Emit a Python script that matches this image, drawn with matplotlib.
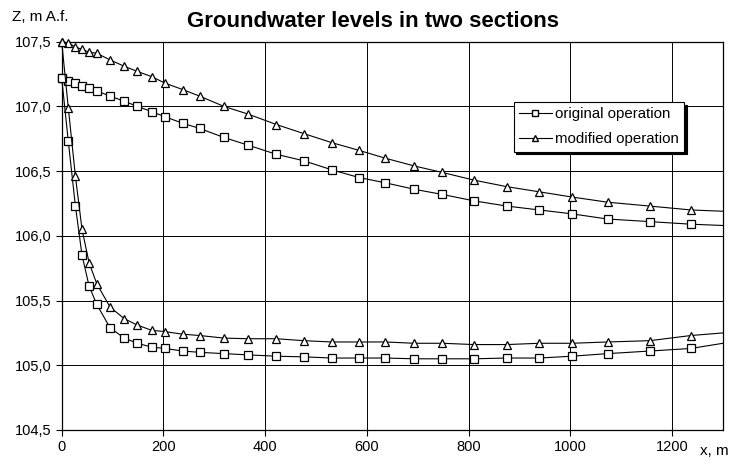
import numpy as np
import matplotlib
matplotlib.use("Agg")
import matplotlib.pyplot as plt
from matplotlib.lines import Line2D

plt.rcParams['font.family'] = ['Liberation Sans', 'DejaVu Sans']

# distance along the section, m (last value = right edge of the chart)
x = [0, 13, 27, 40, 54, 69, 95, 123, 149, 177, 203, 238, 271, 319, 367, 422,
     476, 531, 585, 636, 693, 748, 811, 875, 939, 1003, 1073, 1156, 1237, 1300]

# original operation, two sections
orig_upper = [107.22, 107.20, 107.18, 107.16, 107.14, 107.12, 107.08, 107.04, 107.00,
              106.96, 106.92, 106.87, 106.83, 106.76, 106.70, 106.63, 106.58, 106.51,
              106.45, 106.41, 106.36, 106.32, 106.27, 106.23, 106.20, 106.17, 106.13,
              106.11, 106.09, 106.08]
orig_lower = [107.22, 106.73, 106.23, 105.85, 105.61, 105.47, 105.29, 105.21, 105.17,
              105.14, 105.13, 105.11, 105.10, 105.09, 105.08, 105.07, 105.065, 105.056,
              105.056, 105.056, 105.05, 105.05, 105.05, 105.056, 105.056, 105.07, 105.09,
              105.11, 105.13, 105.17]

# modified operation, two sections
mod_upper = [107.50, 107.49, 107.46, 107.44, 107.42, 107.41, 107.36, 107.31, 107.27,
             107.23, 107.18, 107.13, 107.08, 107.00, 106.94, 106.86, 106.79, 106.72,
             106.66, 106.60, 106.54, 106.49, 106.43, 106.38, 106.34, 106.30, 106.26,
             106.23, 106.20, 106.19]
mod_lower = [107.50, 106.99, 106.46, 106.05, 105.79, 105.63, 105.45, 105.36, 105.31,
             105.27, 105.26, 105.24, 105.23, 105.21, 105.205, 105.205, 105.19, 105.18,
             105.18, 105.18, 105.17, 105.17, 105.16, 105.16, 105.17, 105.17, 105.18,
             105.19, 105.23, 105.25]

yticks = [104.5, 105.0, 105.5, 106.0, 106.5, 107.0, 107.5]
xticks = [0, 200, 400, 600, 800, 1000, 1200]

fig = plt.figure(figsize=(7.36, 4.65), dpi=100)
ax = fig.add_axes([0.0838, 0.0753, 0.8986, 0.8350])

marks = slice(0, len(x) - 1)
sq = dict(color='black', lw=0.8, marker='s', markersize=6, markerfacecolor='white',
          markeredgecolor='black', markeredgewidth=0.9, markevery=marks, clip_on=False)
tri = dict(color='black', lw=0.8, marker='^', markersize=5.5, markerfacecolor='white',
           markeredgecolor='black', markeredgewidth=0.9, markevery=marks, clip_on=False)

ax.plot(x, orig_upper, **sq, zorder=3)
ax.plot(x, orig_lower, **sq, zorder=3)
ax.plot(x, mod_upper, **tri, zorder=4)
ax.plot(x, mod_lower, **tri, zorder=4)

ax.set_xlim(0, 1300)
ax.set_ylim(104.5, 107.5)
ax.set_xticks(xticks)
ax.set_yticks(yticks)
ax.set_yticklabels([f'{v:.1f}'.replace('.', ',') for v in yticks])
ax.tick_params(direction='out', length=4, width=0.8, pad=3, labelsize=10.5)
ax.grid(True, color='black', lw=0.7)
ax.set_axisbelow(True)
for s in ax.spines.values():
    s.set_linewidth(0.9)

handles = [
    Line2D([], [], color='black', lw=0.8, marker='s', markersize=5,
           markerfacecolor='white', markeredgecolor='black'),
    Line2D([], [], color='black', lw=0.8, marker='^', markersize=4.5,
           markerfacecolor='white', markeredgecolor='black'),
]
leg = ax.legend(handles, ['original operation', 'modified operation'],
                loc='upper right', bbox_to_anchor=(0.941, 0.845), fontsize=10.8,
                handlelength=2.2, handletextpad=0.2, borderpad=0.35, labelspacing=0.75,
                borderaxespad=0, fancybox=False, framealpha=1, edgecolor='black',
                shadow={'color': 'black', 'alpha': 1})
leg.get_frame().set_linewidth(0.8)

fig.text(0.507, 0.953, 'Groundwater levels in two sections', ha='center', va='center',
         fontsize=16, fontweight='bold')
fig.text(0.016, 0.963, 'Z, m A.f.', ha='left', va='center', fontsize=11)
fig.text(0.951, 0.030, 'x, m', ha='left', va='center', fontsize=11)

fig.savefig('out.png', dpi=100)
